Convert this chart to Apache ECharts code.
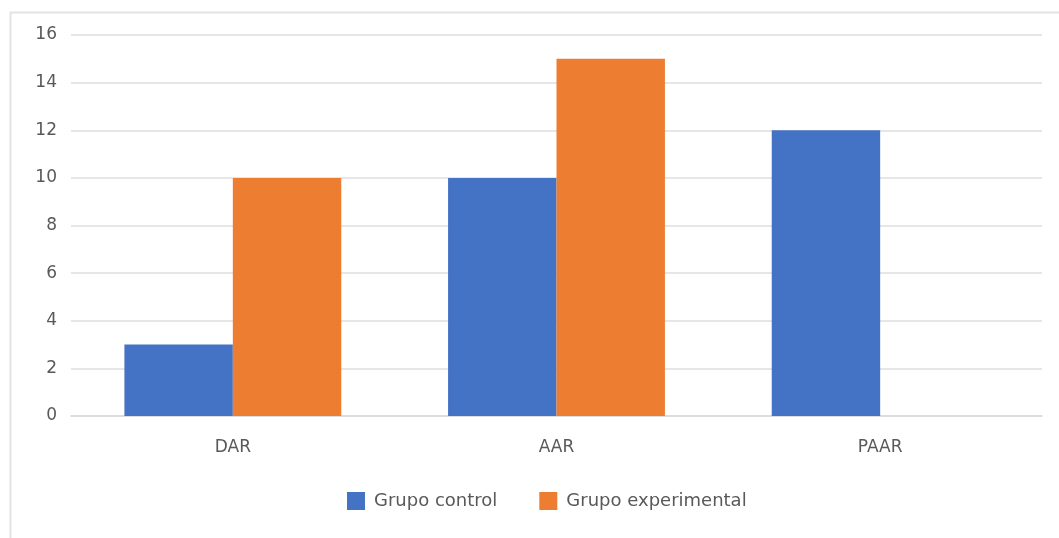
<!DOCTYPE html>
<html><head><meta charset="utf-8">
<script src="https://cdn.jsdelivr.net/npm/echarts@6/dist/echarts.min.js"></script>
<style>html,body{margin:0;padding:0;background:#fff}#c{width:1059px;height:538px}</style>
</head><body><div id="c"></div>
<script>
const categories = ['DAR', 'AAR', 'PAAR'];
const seriesNames = ['Grupo control', 'Grupo experimental'];
const grupoControl = [3, 10, 12];
const grupoExperimental = [10, 15, 0];
const yTicks = [0, 2, 4, 6, 8, 10, 12, 14, 16];

const font = 'DejaVu Sans, sans-serif';
const chart = echarts.init(document.getElementById('c'), null, {renderer: 'canvas'});
chart.setOption({
  animation: false,
  backgroundColor: '#fff',
  graphic: [{
    type: 'rect', left: 8, top: 10, silent: true,
    shape: {width: 1080, height: 560},
    style: {fill: 'none', stroke: '#e3e3e3', lineWidth: 2}
  }],
  grid: {left: 71, right: 17, top: 35, bottom: 122, containLabel: false},
  legend: {
    data: seriesNames, bottom: 23, left: 342,
    itemWidth: 18, itemHeight: 18, itemGap: 42,
    icon: 'rect',
    textStyle: {color: '#595959', fontSize: 18, fontFamily: font, padding: [0,0,0,4]}
  },
  xAxis: {
    type: 'category', data: categories,
    axisLine: {show: true, lineStyle: {color: '#d9d9d9', width: 1.5}},
    axisTick: {show: false},
    axisLabel: {color: '#595959', fontSize: 17, fontFamily: font, margin: 23}
  },
  yAxis: {
    type: 'value', min: yTicks[0], max: yTicks[yTicks.length-1], interval: 2,
    axisLine: {show: false}, axisTick: {show: false},
    axisLabel: {color: '#595959', fontSize: 17, fontFamily: font, margin: 14},
    splitLine: {lineStyle: {color: '#e6e6e6', width: 2}}
  },
  series: [
    {name: seriesNames[0], type: 'bar', data: grupoControl, barGap: '0%', barCategoryGap: '33%',
     itemStyle: {color: '#4472C4'}},
    {name: seriesNames[1], type: 'bar', data: grupoExperimental, barGap: '0%', barCategoryGap: '33%',
     itemStyle: {color: '#ED7D31'}}
  ]
});
</script></body></html>
